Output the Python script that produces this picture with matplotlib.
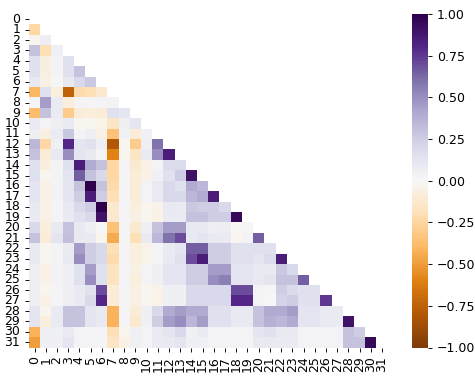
import numpy as np
import seaborn as sns
from matplotlib import pyplot as plt

# Lower triangle of the correlation matrix, row i holds columns 0..i-1
r1 = [-0.25]
r2 = [-0.02, 0.07]
r3 = [0.30, -0.20, 0.05]
r4 = [0.15, -0.07, 0.03, 0.15]
r5 = [0.15, -0.07, 0.03, 0.15, 0.30]
r6 = [0.10, -0.06, 0.01, 0.10, 0.20, 0.27]
r7 = [-0.40, 0.15, -0.08, -0.75, -0.22, -0.20, -0.12]
r8 = [0.02, 0.45, 0.08, -0.08, 0.02, 0.02, 0.02, 0.03]
r9 = [-0.38, 0.30, 0.08, -0.30, -0.10, -0.08, -0.10, 0.15, 0.12]
r10 = [0.08, 0.03, 0.06, 0.08, -0.03, -0.03, -0.04, -0.15, 0.06, 0.12]
r11 = [0.06, -0.07, 0.08, 0.28, 0.03, 0.06, -0.05, -0.35, 0.04, -0.10, 0.04]
r12 = [0.35, -0.25, 0.05, 0.80, 0.12, 0.15, 0.06, -0.80, -0.03, -0.30, 0.06, 0.60]
r13 = [0.30, -0.10, 0.10, 0.50, 0.12, 0.10, 0.03, -0.60, -0.03, -0.15, 0.08, 0.50, 0.85]
r14 = [0.15, -0.08, 0.03, 0.15, 0.85, 0.40, 0.30, -0.25, 0.02, -0.12, -0.05, 0.03, 0.18, 0.18]
r15 = [0.15, -0.03, 0.03, 0.12, 0.65, 0.30, 0.20, -0.25, 0.02, -0.10, -0.05, 0.04, 0.15, 0.25, 0.90]
r16 = [0.12, -0.05, 0.03, 0.12, 0.30, 1.00, 0.30, -0.22, 0.02, -0.10, 0.03, 0.08, 0.20, 0.15, 0.40, 0.35]
r17 = [0.12, -0.05, 0.03, 0.12, 0.25, 0.85, 0.25, -0.20, 0.02, -0.10, 0.03, 0.08, 0.20, 0.20, 0.35, 0.40,
       0.85]
r18 = [0.10, -0.05, 0.02, 0.10, 0.20, 0.25, 1.00, -0.12, 0.02, -0.08, -0.03, -0.04, 0.10, 0.08, 0.28, 0.25,
       0.25, 0.20]
r19 = [0.08, -0.05, 0.02, 0.08, 0.15, 0.20, 0.90, -0.12, 0.02, -0.06, -0.03, -0.05, 0.08, 0.08, 0.30, 0.30,
       0.25, 0.25, 0.95]
r20 = [0.20, -0.08, 0.10, 0.30, 0.10, 0.05, 0.00, -0.35, 0.02, -0.12, 0.06, 0.30, 0.45, 0.45, 0.10, 0.10,
       0.06, 0.07, -0.01, 0.01]
r21 = [0.30, -0.10, 0.12, 0.32, 0.10, 0.08, -0.03, -0.45, 0.02, -0.20, 0.08, 0.35, 0.60, 0.70, 0.10, 0.12,
       0.08, 0.08, -0.02, 0.03, 0.65]
r22 = [0.10, -0.03, 0.03, 0.08, 0.45, 0.25, 0.20, -0.20, 0.02, -0.08, -0.04, 0.02, 0.08, 0.12, 0.65, 0.65,
       0.25, 0.25, 0.15, 0.15, 0.15, 0.15]
r23 = [0.10, -0.03, 0.03, 0.10, 0.50, 0.25, 0.20, -0.22, 0.02, -0.08, -0.04, 0.02, 0.10, 0.15, 0.70, 0.85,
       0.25, 0.25, 0.15, 0.15, 0.12, 0.18, 0.85]
r24 = [0.06, -0.05, 0.03, 0.06, 0.15, 0.45, 0.15, -0.17, 0.02, -0.06, 0.03, 0.05, 0.12, 0.12, 0.25, 0.25,
       0.45, 0.45, 0.12, 0.12, 0.10, 0.10, 0.28, 0.20]
r25 = [0.06, -0.05, 0.03, 0.06, 0.15, 0.50, 0.15, -0.17, 0.02, -0.08, 0.03, 0.05, 0.12, 0.12, 0.25, 0.25,
       0.50, 0.55, 0.12, 0.12, 0.10, 0.12, 0.30, 0.30, 0.65]
r26 = [0.06, -0.03, 0.02, 0.06, 0.10, 0.15, 0.70, -0.10, 0.02, -0.06, -0.02, -0.04, 0.05, 0.05, 0.20, 0.20,
       0.20, 0.20, 0.70, 0.70, 0.03, 0.01, 0.25, 0.18, 0.15, 0.15]
r27 = [0.06, -0.05, 0.02, 0.06, 0.10, 0.20, 0.80, -0.10, 0.02, -0.06, -0.03, -0.04, 0.05, 0.05, 0.20, 0.20,
       0.20, 0.20, 0.80, 0.80, 0.03, 0.00, 0.22, 0.25, 0.15, 0.15, 0.75]
r28 = [0.12, -0.03, 0.08, 0.30, 0.30, 0.12, 0.10, -0.42, 0.02, -0.10, 0.05, 0.20, 0.40, 0.45, 0.40, 0.40,
       0.15, 0.15, 0.10, 0.10, 0.30, 0.40, 0.40, 0.45, 0.12, 0.12, 0.08, 0.08]
r29 = [0.12, -0.08, 0.08, 0.30, 0.30, 0.12, 0.10, -0.42, 0.02, -0.12, 0.05, 0.25, 0.45, 0.50, 0.35, 0.45,
       0.15, 0.15, 0.10, 0.10, 0.30, 0.38, 0.35, 0.40, 0.12, 0.12, 0.08, 0.08, 0.90]
r30 = [-0.42, 0.06, 0.05, 0.08, 0.03, 0.03, 0.02, -0.20, -0.03, 0.05, 0.03, 0.08, 0.12, 0.20, 0.05, 0.08,
       0.03, 0.03, 0.03, 0.03, 0.12, 0.15, 0.10, 0.10, 0.03, 0.03, 0.03, 0.03, 0.30, 0.25]
r31 = [-0.50, 0.05, 0.06, 0.12, 0.03, 0.03, 0.02, -0.15, -0.05, 0.05, 0.03, 0.08, 0.10, 0.12, 0.05, 0.05,
       0.03, 0.03, 0.03, 0.03, 0.10, 0.10, 0.08, 0.08, 0.03, 0.03, 0.03, 0.03, 0.30, 0.30, 0.95]

lower_rows = [r1, r2, r3, r4, r5, r6, r7, r8, r9, r10, r11, r12, r13, r14, r15, r16,
              r17, r18, r19, r20, r21, r22, r23, r24, r25, r26, r27, r28, r29, r30, r31]
labels = list(range(32))

# Build the full symmetric matrix
n = len(labels)
corr = np.eye(n)
for i, row in enumerate(lower_rows, start=1):
    corr[i, :i] = row
    corr[:i, i] = row

# Hide upper triangle and diagonal
mask = np.triu(np.ones_like(corr, dtype=bool))

fig = plt.figure(figsize=(4.75, 3.79), dpi=100)
ax = fig.add_axes([28.9 / 475, 1 - 347.5 / 379, 358.7 / 475, 333.5 / 379])
cax = fig.add_axes([411.7 / 475, 1 - 347.5 / 379, 16.6 / 475, 333.5 / 379])

sns.heatmap(corr, mask=mask, cmap="PuOr", vmin=-1, vmax=1, center=0,
            xticklabels=labels, yticklabels=labels, ax=ax, cbar_ax=cax)
ax.tick_params(axis='x', labelrotation=90, labelsize=9, length=2.8, width=0.65)
ax.tick_params(axis='y', labelrotation=0, labelsize=9, length=2.8, width=0.65)
cax.tick_params(labelsize=9, length=2.8, width=0.65)

fig.savefig("out.png", dpi=100)
